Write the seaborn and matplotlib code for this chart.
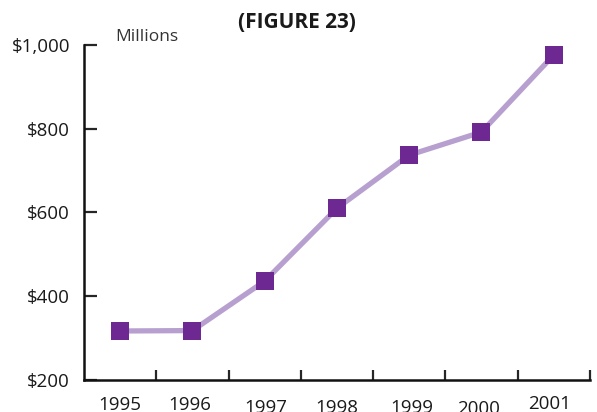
# Line chart: yearly totals in millions of dollars (Figure 23)
import numpy as np
import matplotlib.pyplot as plt
import seaborn as sns

# Data
years = ['1995', '1996', '1997', '1998', '1999', '2000', '2001']
values = [317, 318, 436, 610, 737, 792, 976]  # $ millions
y_ticks = [200, 400, 600, 800, 1000]
y_tick_labels = ['$200', '$400', '$600', '$800', '$1,000']

sns.set_style('white')
plt.rcParams['font.family'] = ['Open Sans', 'DejaVu Sans']

fig = plt.figure(figsize=(5.97, 4.12), dpi=100)
ax = fig.add_axes([0.1407, 0.0777, 0.8473, 0.8131])

x = np.arange(len(years))
sns.lineplot(x=x, y=values, ax=ax, color='#b7a0cf', linewidth=3.8, zorder=2)
sns.scatterplot(x=x, y=values, ax=ax, marker='s', s=170, color='#6e2891',
                edgecolor='#6e2891', linewidth=0, zorder=3)

ax.set_xlim(-0.5, len(years) - 0.5)
ax.set_ylim(200, 1000)

# x ticks sit between the years, labels under each year (slightly wavy, as in the source)
ax.set_xticks(np.arange(len(years)) + 0.5)
ax.set_xticklabels([])
label_drop = [0, 0, 2, 2, 2, 3, -1]
label_shift = [0, -2, 1, 0, 2, -2, -3]
for i, yr in enumerate(years):
    ax.annotate(yr, xy=(i, 0), xycoords=('data', 'axes fraction'),
                xytext=(label_shift[i], -11.5 - label_drop[i]), textcoords='offset points',
                ha='center', va='top', fontsize=13.5, color='#1a1a1a',
                annotation_clip=False)

ax.set_yticks(y_ticks)
ax.set_yticklabels(y_tick_labels, fontsize=13.5, color='#1a1a1a')

ax.tick_params(axis='y', direction='in', length=9, width=1.6, pad=10, left=True)
ax.tick_params(axis='x', direction='in', length=7, width=1.6, bottom=True)

for side in ['top', 'right']:
    ax.spines[side].set_visible(False)
for side in ['left', 'bottom']:
    ax.spines[side].set_linewidth(1.8)
    ax.spines[side].set_color('#111111')

ax.set_xlabel('')
ax.set_ylabel('')

fig.text(0.193, 0.91, 'Millions', fontsize=12.5, color='#333333', ha='left', va='center')
fig.text(0.497, 0.945, '(FIGURE 23)', fontsize=15, fontweight='bold',
         color='#1a1a1a', ha='center', va='center')

fig.savefig('out.png', dpi=100)
